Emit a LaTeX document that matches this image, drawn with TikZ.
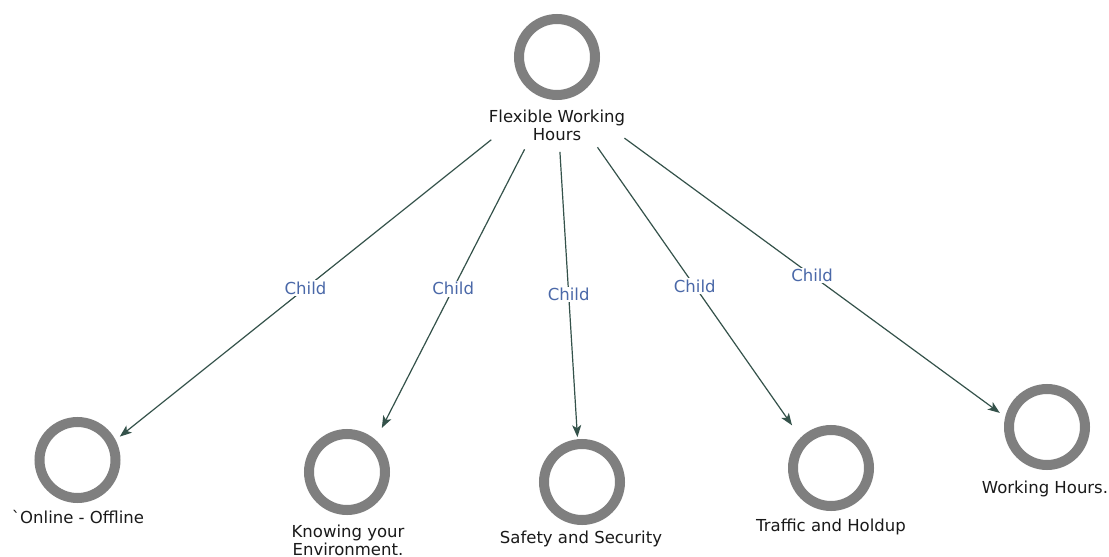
\documentclass[tikz,border=0pt]{standalone}
\usepackage{fontspec}
\newfontfamily\nfont{DejaVu Sans}
\usetikzlibrary{arrows.meta,shapes.geometric}
\definecolor{ringgray}{HTML}{7F7F7F}
\definecolor{edgecol}{HTML}{34524A}
\definecolor{labblue}{HTML}{4A68A8}
\definecolor{txtcol}{HTML}{1A1A1A}
\begin{document}
\begin{tikzpicture}[x=1pt,y=-1pt,
  ring/.style={circle,draw=ringgray,line width=10pt,minimum size=76pt,inner sep=0pt},
  txt/.style={font=\nfont\fontsize{16.5}{18}\selectfont,align=center,anchor=base,inner sep=0pt,text=txtcol},
  hub/.style={ellipse,inner sep=0pt,outer sep=0pt,minimum width=220pt,minimum height=128pt},
  aim/.style={circle,inner sep=0pt,outer sep=0pt,minimum size=#1},
  link/.style={draw=edgecol,line width=1.2pt,-{Stealth[length=12pt,width=9pt,inset=3pt]}},
  lab/.style={font=\nfont\fontsize{16.5}{18}\selectfont,text=labblue,fill=white,inner sep=1.5pt}
]
\useasboundingbox (0,0) rectangle (1109,557);
\fill[white] (0,0) rectangle (1109,557);

% top node
\node[ring] (top) at (557,57) {};
\node[txt] (topL) at (557,140) {Flexible Working\\Hours};
\node[hub] (hub) at (556,88) {};

% children
\node[ring] (on) at (77.5,460) {};
\node[txt] (onL) at (78,523) {\symbol{96}Online - Offline};
\node[aim=107pt] (onA) at (78,470) {};

\node[ring] (kn) at (347,472) {};
\node[txt] (knL) at (348,555) {Knowing your\\Environment.};
\node[aim=144pt] (knA) at (349,492) {};

\node[ring] (sa) at (582,482) {};
\node[txt] (saL) at (581,543) {Safety and Security};
\node[aim=116pt] (saA) at (581,495) {};

\node[ring] (tr) at (831,468) {};
\node[txt] (trL) at (831,531) {Traffic and Holdup};
\node[aim=136pt] (trA) at (831,481) {};

\node[ring] (wo) at (1047,427) {};
\node[txt] (woL) at (1045,493) {Working Hours.};
\node[aim=112pt] (woA) at (1045,446) {};

% connectors
\draw[link] (hub) -- node[lab] {Child} (onA);
\draw[link] (hub) -- node[lab] {Child} (knA);
\draw[link] (hub) -- node[lab] {Child} (saA);
\draw[link] (hub) -- node[lab] {Child} (trA);
\draw[link] (hub) -- node[lab] {Child} (woA);
\end{tikzpicture}
\end{document}
